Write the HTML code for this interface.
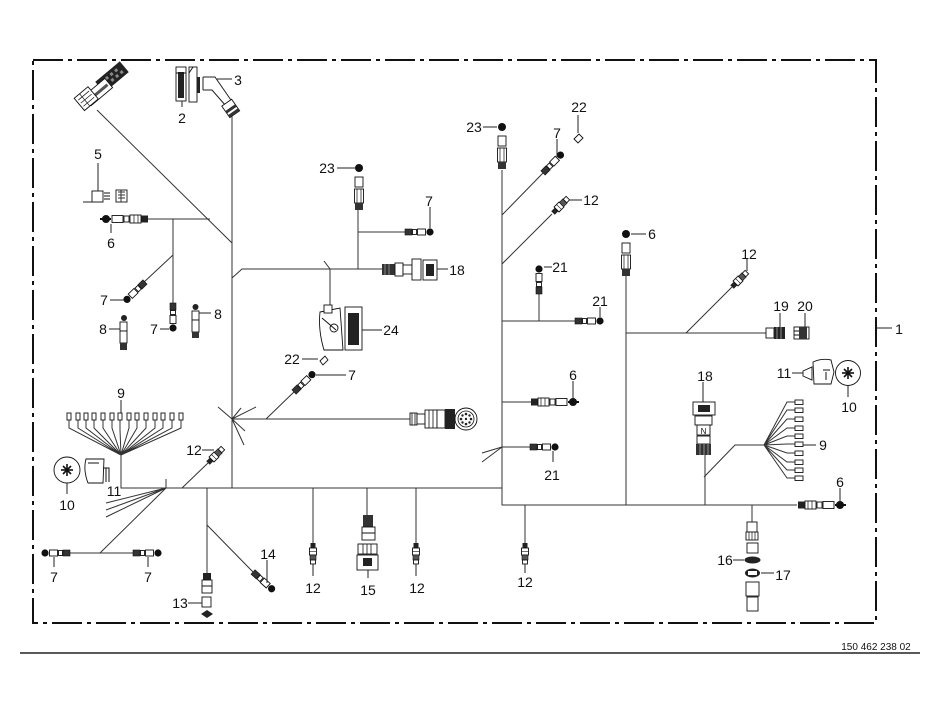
<!DOCTYPE html>
<html><head><meta charset="utf-8">
<style>
html,body{margin:0;padding:0;background:#fff;}
svg{display:block;}
text{font-family:"Liberation Sans Narrow","Liberation Sans",sans-serif;font-size:14px;fill:#111;text-anchor:middle;}
.w{stroke:#333;stroke-width:1;fill:none;}
.l{stroke:#222;stroke-width:1;fill:none;}
.o{fill:#fff;stroke:#111;stroke-width:0.9;}
.d{fill:#222;}
</style></head><body>
<svg width="950" height="725" viewBox="0 0 950 725" xmlns="http://www.w3.org/2000/svg">
<defs>
  <g id="h7">
    <rect x="0" y="-3" width="7" height="6" fill="#333" stroke="#111" stroke-width=".6"/>
    <rect x="7.5" y="-2.5" width="4" height="5" class="o"/>
    <rect x="12.5" y="-3" width="8" height="6" class="o"/>
    <circle cx="25" cy="0" r="3.6" fill="#111"/>
  </g>
  <g id="v12">
    <rect x="-2.5" y="0" width="5" height="5" fill="#222"/>
    <rect x="-3.5" y="5" width="7" height="7" class="o"/>
    <line x1="-3.5" y1="8.5" x2="3.5" y2="8.5" stroke="#111" stroke-width=".6"/>
    <rect x="-3" y="12" width="6" height="5" fill="#555" stroke="#111" stroke-width=".6"/>
    <rect x="-2.5" y="17" width="5" height="4" class="o"/>
  </g>
  <g id="v23">
    <circle cx="0" cy="0" r="4" fill="#111"/>
    <rect x="-4" y="9" width="8" height="10" class="o"/>
    <rect x="-4.5" y="21" width="9" height="14" class="o"/>
    <line x1="-2" y1="21" x2="-2" y2="35" stroke="#111" stroke-width=".7"/>
    <line x1="2" y1="21" x2="2" y2="35" stroke="#111" stroke-width=".7"/>
    <rect x="-4" y="35" width="8" height="7" fill="#333"/>
  </g>
  <g id="h6">
    <rect x="0" y="-3.5" width="7" height="7" fill="#222"/>
    <rect x="7" y="-4" width="11" height="8" class="o"/>
    <line x1="10" y1="-4" x2="10" y2="4" stroke="#111" stroke-width=".7"/>
    <line x1="14" y1="-4" x2="14" y2="4" stroke="#111" stroke-width=".7"/>
    <rect x="19" y="-3" width="5" height="6" class="o"/>
    <rect x="25" y="-3.5" width="11" height="7" class="o"/>
    <circle cx="42" cy="0" r="4" fill="#111"/>
    <rect x="37" y="-1" width="11" height="2" fill="#111"/>
  </g>
</defs>

<!-- border -->
<rect x="33" y="60" width="843" height="563" fill="none" stroke="#111" stroke-width="2" stroke-dasharray="30 5 4 5"/>
<line x1="20" y1="653" x2="920" y2="653" stroke="#222" stroke-width="1.6"/>
<text x="876" y="650" style="font-size:10px;font-family:'Liberation Sans',sans-serif">150 462 238 02</text>

<!-- wires -->
<path class="w" d="M97 110 L232 243 M232 113 V488 M148 219 H210 M173 219 V303 M173 255 L143 283
M232 278 L242 269 H382 M358 210 V269 M358 232 H405 M330 269 V307 M330 269 L324 261
M232 419 H412 M266 419 L296 390
M232 419 L218 407 M232 419 L241 408 M232 419 L256 407 M232 419 L245 431 M232 419 L244 445
M121 455 V488 H502 M166 488 V479 M166 488 L106 503 M166 488 L106 510 M166 488 L106 517
M166 488 L100 553 M68 553 H133 M182 488 L208 463 M207 488 V573 M207 525 L253 572
M313 488 V543 M367 488 V515 M416 488 V543
M502 170 V505 H797 M502 402 H531 M502 447 H537 M502 447 L482 453 M502 447 L482 462
M525 505 V543 M502 215 L543 173 M502 264 L552 214 M502 321 H575 M539 294 V321
M626 275 V505 M626 333 H768 M686 333 L732 287 M705 455 V505 M704 477 L735 445 H764 M752 505 V522"/>

<!-- right fan 9 -->
<g class="w">
  <path d="M764 445 L787 402 H795 M764 445 L787 410 H795 M764 445 L787 419 H795 M764 445 L787 428 H795 M764 445 L787 436 H795 M764 445 L787 444 H795 M764 445 L787 453 H795 M764 445 L787 462 H795 M764 445 L787 470 H795 M764 445 L787 478 H795"/>
</g>
<g class="o">
  <rect x="795" y="400" width="8" height="4.5"/><rect x="795" y="408" width="8" height="4.5"/><rect x="795" y="417" width="8" height="4.5"/><rect x="795" y="426" width="8" height="4.5"/><rect x="795" y="434" width="8" height="4.5"/><rect x="795" y="442" width="8" height="4.5"/><rect x="795" y="451" width="8" height="4.5"/><rect x="795" y="460" width="8" height="4.5"/><rect x="795" y="468" width="8" height="4.5"/><rect x="795" y="476" width="8" height="4.5"/>
</g>

<!-- left fan 9 -->
<g class="w">
  <path d="M69 420 V428 L121 455 M78 420 V428 L121 455 M86 420 V428 L121 455 M94 420 V428 L121 455 M103 420 V428 L121 455 M112 420 V428 L121 455 M120 420 V430 L121 455 M129 420 V428 L121 455 M137 420 V428 L121 455 M146 420 V428 L121 455 M155 420 V428 L121 455 M163 420 V428 L121 455 M172 420 V428 L121 455 M181 420 V428 L121 455"/>
</g>
<g class="o">
  <rect x="67" y="413" width="4" height="7"/><rect x="76" y="413" width="4" height="7"/><rect x="84" y="413" width="4" height="7"/><rect x="92" y="413" width="4" height="7"/><rect x="101" y="413" width="4" height="7"/><rect x="110" y="413" width="4" height="7"/><rect x="118" y="413" width="4" height="7"/><rect x="127" y="413" width="4" height="7"/><rect x="135" y="413" width="4" height="7"/><rect x="144" y="413" width="4" height="7"/><rect x="153" y="413" width="4" height="7"/><rect x="161" y="413" width="4" height="7"/><rect x="170" y="413" width="4" height="7"/><rect x="179" y="413" width="4" height="7"/>
</g>

<!-- top-left connector assembly -->
<g transform="translate(112,77) rotate(-40)">
  <rect x="-16" y="-7" width="32" height="14" fill="#222"/>
  <g fill="#888"><rect x="-12" y="-4" width="3" height="3"/><rect x="-6" y="-4" width="3" height="3"/><rect x="0" y="-4" width="3" height="3"/><rect x="6" y="-4" width="3" height="3"/><rect x="-9" y="1" width="3" height="3"/><rect x="-3" y="1" width="3" height="3"/><rect x="3" y="1" width="3" height="3"/><rect x="9" y="1" width="3" height="3"/></g>
</g>
<g transform="translate(98,92) rotate(-40)">
  <rect x="-14" y="-6" width="28" height="12" class="o"/>
  <rect x="-12" y="-1" width="24" height="3" fill="#555"/>
</g>
<g transform="translate(87,98) rotate(-40)">
  <rect x="-10" y="-8" width="18" height="16" class="o"/>
  <path d="M-8 -4 H6 M-8 0 H6 M-8 4 H6 M-3 -8 V8" stroke="#111" stroke-width=".7"/>
</g>

<!-- connector 2 -->
<rect x="176" y="67" width="10" height="34" class="o"/>
<rect x="178" y="72" width="6" height="26" fill="#222"/>
<line x1="176" y1="73" x2="186" y2="73" stroke="#111"/>
<line class="l" x1="182" y1="101" x2="182" y2="107"/>
<text x="182" y="123">2</text>

<!-- connector 3 -->
<rect x="189" y="67" width="8" height="35" class="o"/>
<path d="M189 73 L193 67" stroke="#111" fill="none"/>
<rect x="197" y="77" width="3" height="16" fill="#222"/>
<path class="l" d="M203 77 H215 L233 103 M203 90 H212 L226 106 M203 77 V90"/>
<g transform="translate(229,106) rotate(55)">
  <rect x="-4" y="-6" width="14" height="12" class="o"/>
  <rect x="2" y="-6" width="3" height="12" fill="#333"/>
  <rect x="7" y="-6" width="3" height="12" fill="#333"/>
</g>
<line class="l" x1="217" y1="79" x2="232" y2="79"/>
<text x="238" y="85">3</text>

<!-- 5 -->
<text x="98" y="159">5</text>
<line class="l" x1="98" y1="163" x2="98" y2="192"/>
<rect x="92" y="191" width="11" height="11" class="o"/>
<line class="l" x1="83" y1="202" x2="103" y2="202"/>
<path d="M104 193 H110 M104 196 H110 M104 199 H110" stroke="#111" stroke-width="1"/>
<rect x="116" y="190" width="11" height="12" class="o"/>
<path d="M118 192 H125 M118 195 H125 M118 198 H125 M121 190 V202" stroke="#333" stroke-width="1"/>

<!-- 6 left -->
<g transform="translate(148,219) rotate(180)"><use href="#h6"/></g>
<line class="l" x1="111" y1="224" x2="111" y2="233"/>
<text x="111" y="248">6</text>

<!-- 7 diag left -->
<use href="#h7" transform="translate(145,282) rotate(136)"/>
<line class="l" x1="110" y1="300" x2="124" y2="300"/>
<text x="104" y="305">7</text>
<!-- 7 vertical -->
<use href="#h7" transform="translate(173,303) rotate(90)"/>
<line class="l" x1="160" y1="329" x2="169" y2="329"/>
<text x="154" y="334">7</text>
<!-- 8 left -->
<circle cx="124" cy="318" r="3" fill="#222"/>
<rect x="120" y="322" width="7" height="9" class="o"/>
<rect x="120" y="331" width="7" height="12" class="o"/>
<rect x="120" y="343" width="7" height="7" fill="#333"/>
<line class="l" x1="109" y1="329" x2="120" y2="329"/>
<text x="103" y="334">8</text>
<!-- 8 right -->
<circle cx="195.5" cy="307" r="3" fill="#222"/>
<rect x="192" y="311" width="7" height="9" class="o"/>
<rect x="192" y="320" width="7" height="12" class="o"/>
<rect x="192" y="332" width="7" height="6" fill="#333"/>
<line class="l" x1="199" y1="313" x2="211" y2="313"/>
<text x="218" y="319">8</text>

<!-- 9 left label -->
<text x="121" y="398">9</text>
<line class="l" x1="121" y1="400" x2="121" y2="413"/>

<!-- 10/11 left -->
<circle cx="67" cy="470" r="13" class="o"/>
<g stroke="#111" stroke-width="1.6"><line x1="61" y1="470" x2="73" y2="470"/><line x1="67" y1="464" x2="67" y2="476"/><line x1="63" y1="466" x2="71" y2="474"/><line x1="71" y1="466" x2="63" y2="474"/></g>
<line class="l" x1="67" y1="483" x2="67" y2="494"/>
<text x="67" y="510">10</text>
<path d="M86 459 H104 L103 483 H88 Q83 470 86 459 Z" class="o"/>
<path d="M88 463 H99" stroke="#111"/>
<path d="M103 468 H109 V482 M106 468 V482" stroke="#111" fill="none"/>
<text x="114" y="496">11</text>

<!-- 12 left diag -->
<use href="#v12" transform="translate(208,463) rotate(-135)"/>
<line class="l" x1="202" y1="450" x2="214" y2="450"/>
<text x="194" y="455">12</text>

<!-- 7 7 bottom left -->
<use href="#h7" transform="translate(70,553) rotate(180)"/>
<use href="#h7" transform="translate(133,553)"/>
<line class="l" x1="54" y1="557" x2="54" y2="567"/>
<line class="l" x1="148" y1="557" x2="148" y2="567"/>
<text x="54" y="582">7</text>
<text x="148" y="582">7</text>

<!-- 13 -->
<rect x="203" y="573" width="8" height="7" fill="#222"/>
<rect x="202" y="580" width="10" height="13" class="o"/>
<line x1="202" y1="586" x2="212" y2="586" stroke="#111"/>
<rect x="202" y="597" width="9" height="10" class="o"/>
<path d="M201 614 L207 610 L213 614 L207 618 Z" fill="#222"/>
<line class="l" x1="188" y1="603" x2="202" y2="603"/>
<text x="180" y="608">13</text>

<!-- 14 -->
<use href="#h7" transform="translate(253,572) rotate(42)"/>
<line class="l" x1="267" y1="560" x2="267" y2="583"/>
<text x="268" y="559">14</text>

<!-- bottom 12s and 15 -->
<use href="#v12" transform="translate(313,543)"/>
<line class="l" x1="313" y1="564" x2="313" y2="576"/>
<text x="313" y="593">12</text>
<use href="#v12" transform="translate(416,543)"/>
<line class="l" x1="416" y1="564" x2="416" y2="576"/>
<text x="417" y="593">12</text>
<use href="#v12" transform="translate(525,543)"/>
<line class="l" x1="525" y1="564" x2="525" y2="573"/>
<text x="525" y="587">12</text>

<rect x="363" y="515" width="10" height="12" fill="#333"/>
<rect x="362" y="527" width="13" height="13" class="o"/>
<path d="M362 533 H375" stroke="#111"/>
<rect x="358" y="544" width="19" height="10" class="o"/>
<path d="M363 544 V554 M367 544 V554 M371 544 V554" stroke="#111" stroke-width=".8"/>
<rect x="357" y="555" width="21" height="15" class="o"/>
<rect x="363" y="558" width="9" height="8" fill="#222"/>
<line class="l" x1="368" y1="570" x2="368" y2="578"/>
<text x="368" y="595">15</text>

<!-- 23 / 7 / 18 / 24 / 22 / 7 center -->
<use href="#v23" transform="translate(359,168)"/>
<line class="l" x1="337" y1="168" x2="355" y2="168"/>
<text x="327" y="173">23</text>
<use href="#h7" transform="translate(405,232)"/>
<line class="l" x1="430" y1="207" x2="430" y2="228"/>
<text x="429" y="206">7</text>

<rect x="382" y="264" width="13" height="11" fill="#333"/>
<path d="M385 264 V275 M389 264 V275" stroke="#999" stroke-width=".8"/>
<rect x="395" y="263" width="8" height="13" class="o"/>
<rect x="403" y="265" width="9" height="9" class="o"/>
<rect x="412" y="259" width="9" height="21" class="o"/>
<rect x="423" y="260" width="14" height="20" class="o"/>
<rect x="426" y="264" width="8" height="12" fill="#222"/>
<line class="l" x1="437" y1="269" x2="448" y2="269"/>
<text x="457" y="275">18</text>

<path d="M320 312 L340 308 L343 350 L324 350 Q318 330 320 312 Z" class="o"/>
<rect x="324" y="305" width="8" height="8" class="o"/>
<circle cx="334" cy="328" r="4" class="o"/>
<path d="M322 318 L336 330" stroke="#111"/>
<rect x="345" y="307" width="17" height="43" class="o"/>
<rect x="348" y="313" width="11" height="32" fill="#222"/>
<line class="l" x1="362" y1="330" x2="382" y2="330"/>
<text x="391" y="335">24</text>

<line class="l" x1="302" y1="359" x2="318" y2="359"/>
<text x="292" y="364">22</text>
<path d="M320 361 L325 356 L328 360 L323 365 Z" class="o"/>
<use href="#h7" transform="translate(294,392) rotate(-44)"/>
<line class="l" x1="316" y1="375" x2="346" y2="375"/>
<text x="352" y="380">7</text>

<!-- big round connector -->
<rect x="410" y="413" width="7" height="12" class="o"/>
<path d="M412 413 V425 M415 413 V425" stroke="#111" stroke-width=".8"/>
<rect x="417" y="414" width="8" height="10" class="o"/>
<rect x="425" y="410" width="12" height="18" class="o"/>
<path d="M429 410 V428 M433 410 V428" stroke="#111" stroke-width=".8"/>
<rect x="437" y="410" width="8" height="18" class="o"/>
<rect x="445" y="409" width="10" height="20" fill="#222"/>
<circle cx="466" cy="419" r="11" class="o"/>
<circle cx="466" cy="419" r="8" fill="none" stroke="#111" stroke-width=".8"/>
<g fill="#222"><circle cx="466" cy="414" r="1.3"/><circle cx="466" cy="424" r="1.3"/><circle cx="461" cy="419" r="1.3"/><circle cx="471" cy="419" r="1.3"/><circle cx="462.5" cy="415.5" r="1.2"/><circle cx="469.5" cy="415.5" r="1.2"/><circle cx="462.5" cy="422.5" r="1.2"/><circle cx="469.5" cy="422.5" r="1.2"/><circle cx="466" cy="419" r="1.2"/></g>

<!-- right column upper -->
<use href="#v23" transform="translate(502,127)"/>
<line class="l" x1="483" y1="127" x2="497" y2="127"/>
<text x="474" y="132">23</text>
<text x="579" y="112">22</text>
<line class="l" x1="578" y1="115" x2="578" y2="133"/>
<path d="M574 139 L579 134 L583 138 L578 143 Z" class="o"/>
<use href="#h7" transform="translate(543,173) rotate(-45.7)"/>
<line class="l" x1="557" y1="139" x2="557" y2="157"/>
<text x="557" y="138">7</text>
<use href="#v12" transform="translate(553,213) rotate(-135)"/>
<line class="l" x1="569" y1="200" x2="582" y2="200"/>
<text x="591" y="205">12</text>
<use href="#h7" transform="translate(539,294) rotate(-90)"/>
<line class="l" x1="544" y1="267" x2="552" y2="267"/>
<text x="560" y="272">21</text>
<use href="#h7" transform="translate(575,321)"/>
<line class="l" x1="600" y1="307" x2="600" y2="317"/>
<text x="600" y="306">21</text>
<use href="#h6" transform="translate(531,402)"/>
<line class="l" x1="573" y1="381" x2="573" y2="398"/>
<text x="573" y="380">6</text>
<use href="#h7" transform="translate(530,447)"/>
<line class="l" x1="553" y1="451" x2="553" y2="462"/>
<text x="552" y="480">21</text>

<!-- right 6 top -->
<use href="#v23" transform="translate(626,234)"/>
<line class="l" x1="631" y1="234" x2="646" y2="234"/>
<text x="652" y="239">6</text>
<use href="#v12" transform="translate(732,287) rotate(-135)"/>
<line class="l" x1="747" y1="259" x2="747" y2="271"/>
<text x="749" y="259">12</text>

<!-- 19, 20 -->
<rect x="766" y="328" width="8" height="10" class="o"/>
<rect x="774" y="327" width="11" height="12" fill="#222"/>
<path d="M777 327 V339 M781 327 V339" stroke="#aaa" stroke-width=".8"/>
<line class="l" x1="780" y1="313" x2="780" y2="327"/>
<text x="781" y="311">19</text>
<rect x="794" y="327" width="15" height="12" class="o"/>
<rect x="799" y="327" width="8" height="12" fill="#333"/>
<path d="M794 331 H799 M794 335 H799" stroke="#111"/>
<line class="l" x1="805" y1="313" x2="805" y2="327"/>
<text x="805" y="311">20</text>

<!-- label 1 -->
<line class="l" x1="877" y1="328" x2="892" y2="328"/>
<text x="899" y="334">1</text>

<!-- 11/10 right -->
<path d="M813 362 Q822 358 831 360 L834 372 L831 384 H814 Z" class="o"/>
<path d="M823 370 H830 M826 372 V380" stroke="#111" fill="none"/>
<path d="M803 371 L812 367 V380 L803 376 Z" class="o"/>
<line class="l" x1="792" y1="373" x2="803" y2="373"/>
<text x="784" y="378">11</text>
<circle cx="848" cy="373" r="12.5" class="o"/>
<g stroke="#111" stroke-width="1.6"><line x1="842" y1="373" x2="854" y2="373"/><line x1="848" y1="367" x2="848" y2="379"/><line x1="844" y1="369" x2="852" y2="377"/><line x1="852" y1="369" x2="844" y2="377"/></g>
<line class="l" x1="848" y1="386" x2="848" y2="397"/>
<text x="849" y="412">10</text>

<!-- 18 right -->
<line class="l" x1="703" y1="382" x2="703" y2="402"/>
<text x="705" y="381">18</text>
<rect x="693" y="402" width="22" height="13" class="o"/>
<rect x="698" y="405" width="12" height="7" fill="#222"/>
<rect x="695" y="416" width="17" height="9" class="o"/>
<rect x="697" y="425" width="13" height="10" class="o"/>
<text x="703.5" y="434" style="font-size:8px">N</text>
<rect x="697" y="436" width="13" height="8" class="o"/>
<rect x="696" y="444" width="15" height="11" fill="#333"/>
<path d="M700 444 V455 M704 444 V455 M708 444 V455" stroke="#aaa" stroke-width=".8"/>

<!-- 9 right label -->
<line class="l" x1="803" y1="445" x2="816" y2="445"/>
<text x="823" y="450">9</text>

<!-- 6 right -->
<use href="#h6" transform="translate(798,505)"/>
<line class="l" x1="840" y1="488" x2="840" y2="501"/>
<text x="840" y="487">6</text>

<!-- 16 / 17 -->
<rect x="747" y="522" width="10" height="10" class="o"/>
<rect x="746" y="532" width="12" height="8" class="o"/>
<path d="M749 532 V540 M752 532 V540 M755 532 V540" stroke="#111" stroke-width=".7"/>
<rect x="747" y="543" width="11" height="10" class="o"/>
<ellipse cx="752.5" cy="560" rx="8" ry="3.5" fill="#222"/>
<ellipse cx="752.5" cy="573" rx="7.5" ry="4.5" fill="#222"/>
<rect x="748" y="571" width="9" height="4" fill="#fff"/>
<rect x="746" y="582" width="13" height="14" class="o"/>
<rect x="747" y="597" width="11" height="14" class="o"/>
<line class="l" x1="733" y1="560" x2="744" y2="560"/>
<text x="725" y="565">16</text>
<line class="l" x1="761" y1="573" x2="774" y2="573"/>
<text x="783" y="580">17</text>
</svg>
</body></html>
